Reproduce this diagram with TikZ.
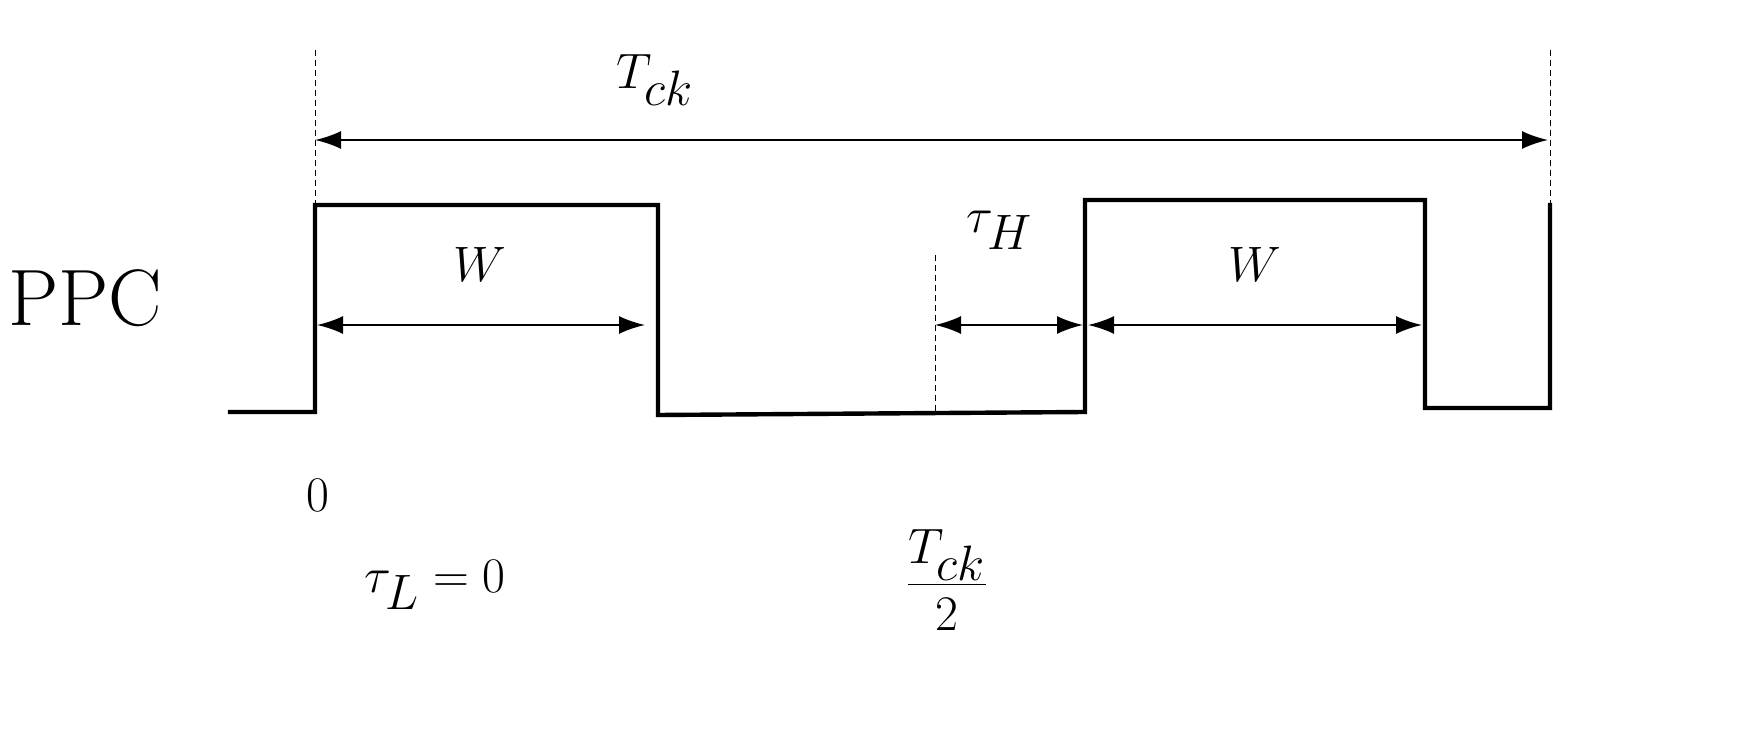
\documentclass[tikz,border=0pt]{standalone}
\usetikzlibrary{arrows.meta}
\begin{document}
\begin{tikzpicture}[x=0.5pt,y=-0.5pt,
  sig/.style={line width=2.2pt,line cap=rect},
  dim/.style={line width=1.1pt,{Latex[length=13pt,width=9pt]}-{Latex[length=13pt,width=9pt]}},
  guide/.style={densely dashed,line width=0.4pt},
  lbl/.style={font=\fontsize{40}{44}\selectfont,inner sep=0pt}]
\useasboundingbox (0,0) rectangle (1759,731);
\coordinate (g0a) at (315,50); \coordinate (g0b) at (315,205);
\coordinate (g1a) at (1550,50); \coordinate (g1b) at (1550,205);
\coordinate (gma) at (935,255); \coordinate (gmb) at (935,412);
\draw[guide] (g0a)--(g0b); \draw[guide] (g1a)--(g1b); \draw[guide] (gma)--(gmb);
\draw[sig] (230,412)--(315,412)--(315,205)--(658,205)--(658,415)--(1085,412)--(1085,200)--(1425,200)--(1425,408)--(1550,408)--(1550,205);
\coordinate (ta) at (315,140); \coordinate (tb) at (1548,140);
\draw[dim] (ta)--(tb);
\coordinate (w1a) at (317,325); \coordinate (w1b) at (645,325);
\draw[dim] (w1a)--(w1b);
\coordinate (w2a) at (1088,325); \coordinate (w2b) at (1422,325);
\draw[dim] (w2a)--(w2b);
\coordinate (tha) at (935,325); \coordinate (thb) at (1083,325);
\draw[dim] (tha)--(thb);
\node[lbl] (tck) at (655,80) {$T_{ck}$};
\node[lbl] (wa) at (480,265) {$W$};
\node[lbl] (wb) at (1255,265) {$W$};
\node[lbl] (th) at (1000,230) {$\tau_H$};
\node[lbl] (ppc) at (85,298) {PPC};
\node[lbl] (z) at (318,495) {$0$};
\node[lbl] (tl) at (435,585) {$\tau_L = 0$};
\node[lbl] (half) at (947,580) {$\displaystyle\frac{T_{ck}}{2}$};
\end{tikzpicture}
\end{document}
